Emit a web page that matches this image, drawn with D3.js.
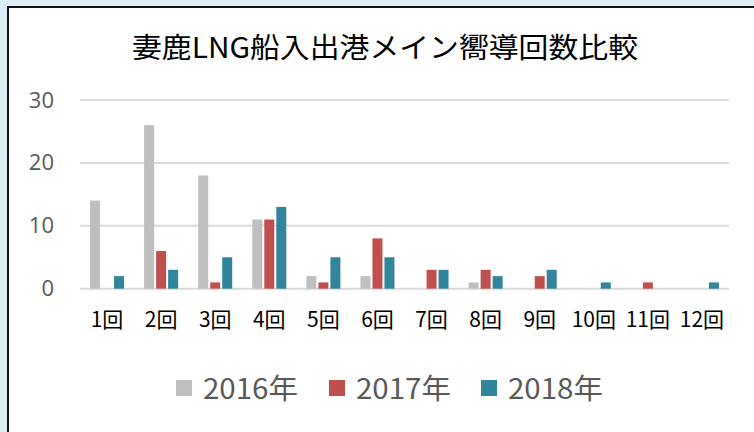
<!DOCTYPE html>
<html>
<head>
<meta charset="utf-8">
<script src="https://cdn.jsdelivr.net/npm/d3@7"></script>
<style>
  html, body { margin: 0; padding: 0; background: #daeef3; }
  svg { display: block; }
</style>
</head>
<body>
<div id="chart"></div>
<script>
// chart values
var categories = ["1回", "2回", "3回", "4回", "5回", "6回", "7回", "8回", "9回", "10回", "11回", "12回"];
var seriesNames = ["2016年", "2017年", "2018年"];
var values2016 = [14, 26, 18, 11, 2, 2, 0, 1, 0, 0, 0, 0];
var values2017 = [0, 6, 1, 11, 1, 8, 3, 3, 2, 0, 1, 0];
var values2018 = [2, 3, 5, 13, 5, 5, 3, 2, 3, 1, 0, 1];
var yTicks = [0, 10, 20, 30];
var titleText = "妻鹿LNG船入出港メイン嚮導回数比較";

var colors = ["#bfbfbf", "#c0504d", "#31859c"];
var seriesValues = [values2016, values2017, values2018];

var width = 754, height = 432;
var plot = { left: 80, right: 729, top: 100, bottom: 288.7 };

var svg = d3.select("#chart")
  .append("svg")
  .attr("width", width)
  .attr("height", height);

// white chart area with dark border (right and bottom edges run off the picture)
svg.append("rect")
  .attr("x", 8)
  .attr("y", 7)
  .attr("width", 760)
  .attr("height", 440)
  .attr("fill", "#ffffff")
  .attr("stroke", "#111111")
  .attr("stroke-width", 2);

// title
svg.append("text")
  .attr("x", 385)
  .attr("y", 58)
  .attr("text-anchor", "middle")
  .style("font-family", "'Noto Sans CJK JP', sans-serif")
  .style("font-size", "28px")
  .style("fill", "#000000")
  .attr("textLength", 506)
  .attr("lengthAdjust", "spacingAndGlyphs")
  .text(titleText);

// scales
var x0 = d3.scaleBand()
  .domain(categories)
  .range([plot.left, plot.right])
  .paddingInner(0)
  .paddingOuter(0);

var x1 = d3.scaleBand()
  .domain(seriesNames)
  .range([-17, 17])
  .paddingInner(2 / 12)
  .paddingOuter(0);

var y = d3.scaleLinear()
  .domain([0, 30])
  .range([plot.bottom, plot.top]);

// gridlines
svg.append("g")
  .selectAll("line")
  .data(yTicks)
  .enter()
  .append("line")
  .attr("x1", plot.left)
  .attr("x2", plot.right)
  .attr("y1", function (d) { return y(d) })
  .attr("y2", function (d) { return y(d) })
  .attr("stroke", "#d9d9d9")
  .attr("stroke-width", 2);

// y axis labels
var yAxis = svg.append("g")
  .attr("transform", "translate(" + 54 + ",0)")
  .call(d3.axisLeft(y).tickValues(yTicks).tickSize(0).tickPadding(0));
yAxis.select(".domain").remove();
yAxis.selectAll("text")
  .style("font-family", "'Open Sans', 'Noto Sans', sans-serif")
  .style("font-size", "22px")
  .style("fill", "#595959");

// bars
var groups = svg.append("g")
  .selectAll("g")
  .data(seriesNames)
  .enter()
  .append("g")
  .attr("fill", function (d, i) { return colors[i] });

groups.selectAll("rect")
  .data(function (s, i) {
    return categories.map(function (c, j) { return { cat: c, series: s, value: seriesValues[i][j] } })
  })
  .enter()
  .append("rect")
  .attr("x", function (d) { return x0(d.cat) + x0.bandwidth() / 2 + x1(d.series) })
  .attr("y", function (d) { return y(d.value) })
  .attr("width", x1.bandwidth())
  .attr("height", function (d) { return y(0) - y(d.value) });

// x axis labels
var xAxis = svg.append("g")
  .attr("transform", "translate(0," + 310 + ")")
  .call(d3.axisBottom(x0).tickSize(0).tickPadding(0));
xAxis.select(".domain").remove();
xAxis.selectAll("text")
  .attr("dy", "0.8em")
  .style("font-family", "'Noto Sans CJK JP', sans-serif")
  .style("font-size", "21px")
  .style("fill", "#000000");

// legend
var legendX = [176, 329, 481];
var legend = svg.append("g")
  .selectAll("g")
  .data(seriesNames)
  .enter()
  .append("g")
  .attr("transform", function (d, i) { return "translate(" + legendX[i] + ",380)" });

legend.append("rect")
  .attr("width", 16)
  .attr("height", 16)
  .attr("fill", function (d, i) { return colors[i] });

legend.append("text")
  .attr("x", 27)
  .attr("y", 19)
  .style("font-family", "'Noto Sans CJK JP', sans-serif")
  .style("font-size", "28px")
  .style("fill", "#595959")
  .attr("textLength", 95)
  .attr("lengthAdjust", "spacingAndGlyphs")
  .text(function (d) { return d });
</script>
</body>
</html>
